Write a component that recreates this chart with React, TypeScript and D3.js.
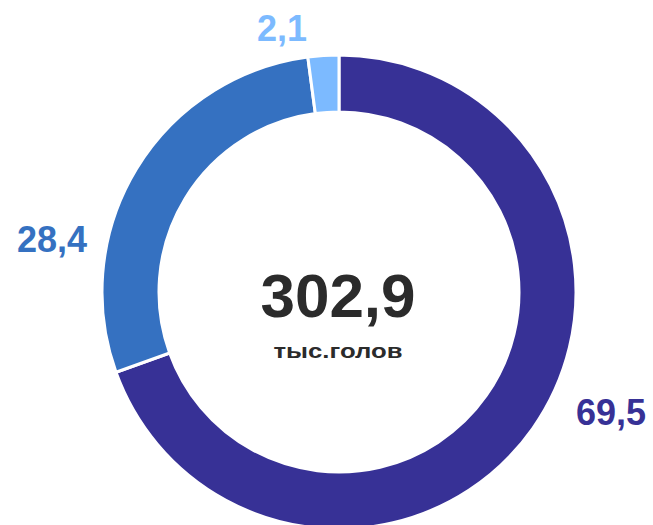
import React from "react";
import * as d3 from "d3";

// доли поголовья, %
const categories = ["a", "b", "c"];
const shares = [69.5, 28.4, 2.1];
const shareLabels = ["69,5", "28,4", "2,1"];
const colors = ["#373196", "#3571c1", "#7cbaff"];
const totalLabel = "302,9";
const unitLabel = "тыс.голов";

const W = 653;
const H = 525;

export default function App() {
  const cx = 339;
  const cy = 292;
  const outerR = 237;
  const innerR = 180;

  const pie = d3
    .pie<number>()
    .sort(null)
    .value((d) => d)
    .startAngle(0)
    .endAngle(2 * Math.PI);
  const arcs = pie(shares);
  const arc = d3.arc<d3.PieArcDatum<number>>().innerRadius(innerR).outerRadius(outerR);

  // позиции подписей (как в исходнике, вне кольца)
  const labelPos: [number, number][] = [
    [611, 425],
    [52, 252],
    [282, 41],
  ];

  return (
    <svg
      width={W}
      height={H}
      style={{ position: "absolute", left: 0, top: 0, fontFamily: "Liberation Sans, Arial, sans-serif" }}
    >
      <rect width={W} height={H} fill="#fff" />
      <g transform={`translate(${cx},${cy})`}>
        {arcs.map((a, i) => (
          <path key={categories[i]} d={arc(a) || ""} fill={colors[i]} stroke="#fff" strokeWidth={3} />
        ))}
        <text x={-1} y={25} textAnchor="middle" fontSize={62} fontWeight="bold" fill="#2b2b2b">
          {totalLabel}
        </text>
        <text
          x={-1}
          y={66}
          textAnchor="middle"
          fontSize={21}
          fontWeight="bold"
          fill="#2b2b2b"
          textLength={129}
          lengthAdjust="spacingAndGlyphs"
        >
          {unitLabel}
        </text>
      </g>
      {shareLabels.map((t, i) => (
        <text
          key={t}
          x={labelPos[i][0]}
          y={labelPos[i][1]}
          textAnchor="middle"
          fontSize={36}
          fontWeight="bold"
          fill={colors[i]}
        >
          {t}
        </text>
      ))}
    </svg>
  );
}
